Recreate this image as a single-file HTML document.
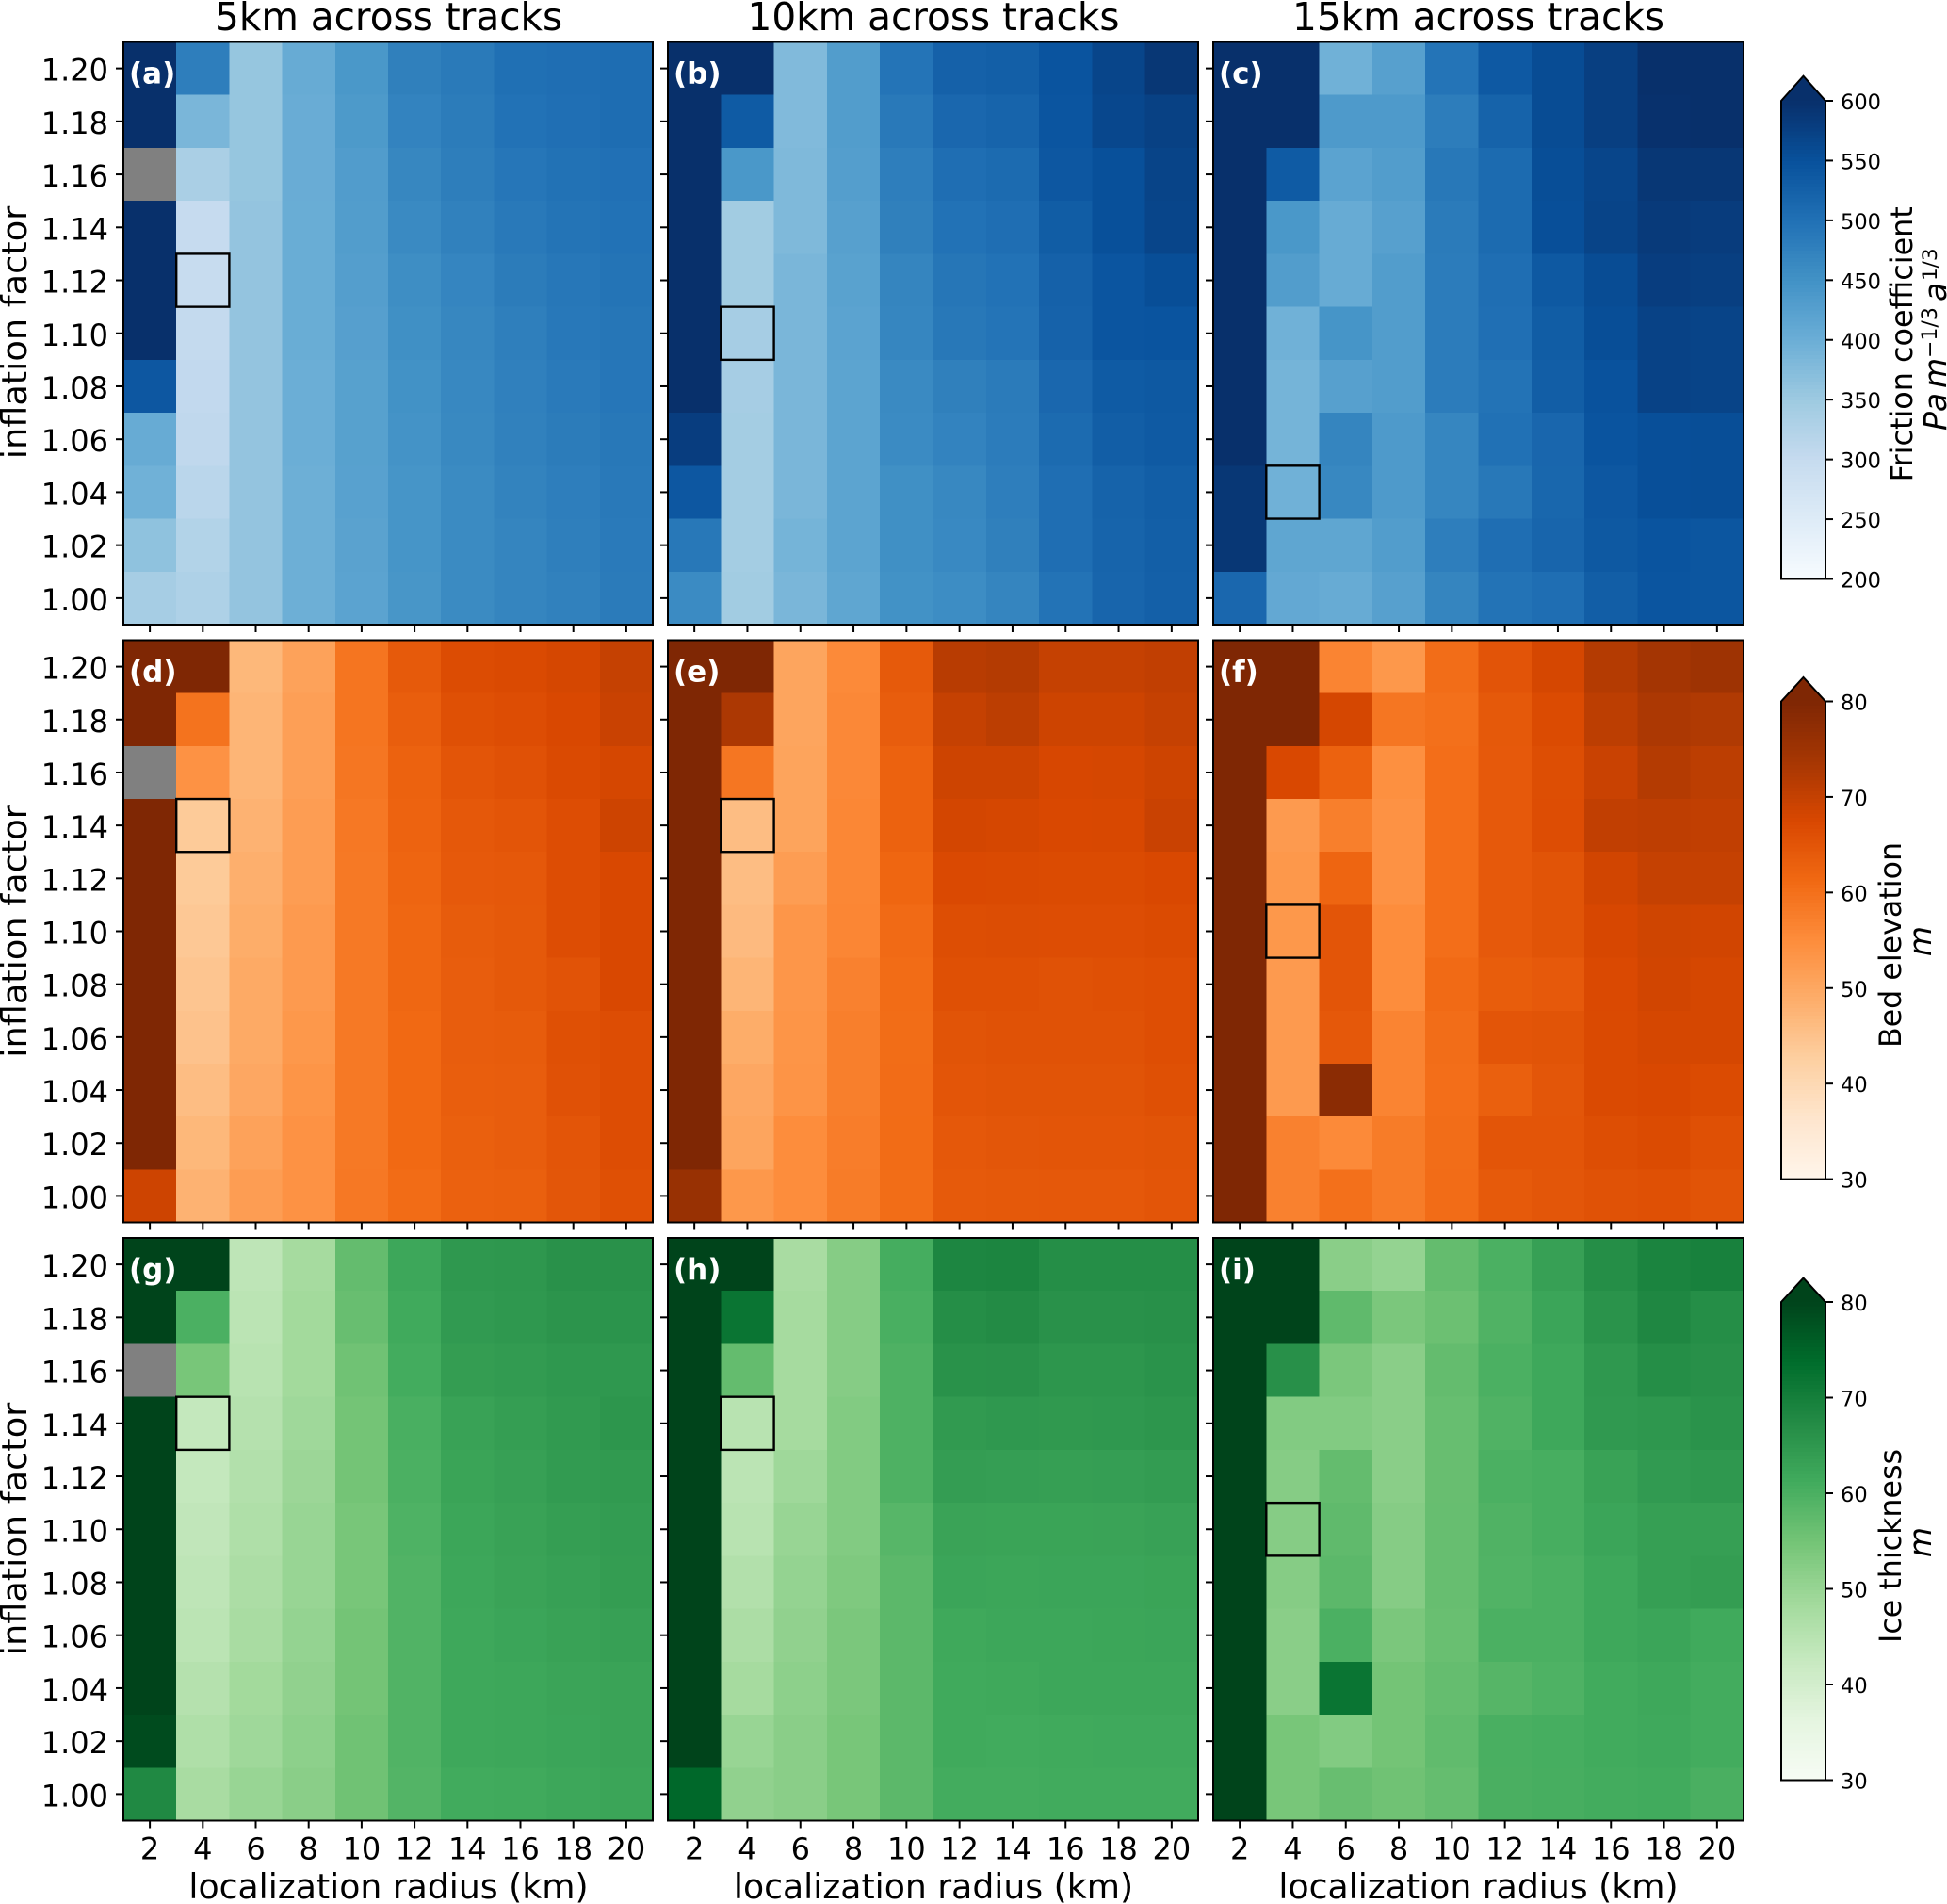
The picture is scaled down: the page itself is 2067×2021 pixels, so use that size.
<!DOCTYPE html>
<html lang="en">
<head>
<meta charset="utf-8">
<title>Localization radius and inflation factor heatmaps</title>
<style>
html,body{margin:0;padding:0;background:#fff;}
svg{display:block;}
text{font-family:"DejaVu Sans","Liberation Sans",sans-serif;fill:#000;}
</style>
</head>
<body>
<svg id="figure" xmlns="http://www.w3.org/2000/svg" width="2067" height="2021" viewBox="0 0 2067 2021">
  <rect x="0" y="0" width="2067" height="2021" fill="#ffffff"/>
  <g id="plots"></g>
  <text x="412.6" y="32" font-size="40.6" text-anchor="middle">5km across tracks</text>
  <text x="991" y="32" font-size="40.6" text-anchor="middle">10km across tracks</text>
  <text x="1569.5" y="32" font-size="40.6" text-anchor="middle">15km across tracks</text>
  <text transform="translate(28,353) rotate(-90)" font-size="36.7" text-anchor="middle">inflation factor</text>
  <text transform="translate(28,988.5) rotate(-90)" font-size="36.7" text-anchor="middle">inflation factor</text>
  <text transform="translate(28,1623) rotate(-90)" font-size="36.7" text-anchor="middle">inflation factor</text>
  <text x="412.5" y="2015" font-size="36.2" text-anchor="middle">localization radius (km)</text>
  <text x="991" y="2015" font-size="36.2" text-anchor="middle">localization radius (km)</text>
  <text x="1569.5" y="2015" font-size="36.2" text-anchor="middle">localization radius (km)</text>
  <text transform="translate(2030,365.3) rotate(-90)" font-size="31.8" text-anchor="middle">Friction coefficient</text>
  <text transform="translate(2066,457) rotate(-90)" font-size="33"><tspan x="0" y="0" font-style="italic">Pa</tspan><tspan x="45" y="0" font-style="italic">m</tspan><tspan x="77" y="-10" font-size="22">−1/3</tspan><tspan x="137" y="0" font-style="italic">a</tspan><tspan x="159" y="-10" font-size="21.5">1/3</tspan></text>
  <text transform="translate(2018,1003) rotate(-90)" font-size="31.7" text-anchor="middle">Bed elevation</text>
  <text transform="translate(2050,999) rotate(-90)" font-size="33" text-anchor="middle" font-style="italic">m</text>
  <text transform="translate(2018,1641) rotate(-90)" font-size="31.7" text-anchor="middle">Ice thickness</text>
  <text transform="translate(2050,1637) rotate(-90)" font-size="33" text-anchor="middle" font-style="italic">m</text>
</svg>
<script>
// Categories and tick labels
const radii = [2, 4, 6, 8, 10, 12, 14, 16, 18, 20];
const inflations = [1.20, 1.18, 1.16, 1.14, 1.12, 1.10, 1.08, 1.06, 1.04, 1.02, 1.00];
const radiusLabels = ['2', '4', '6', '8', '10', '12', '14', '16', '18', '20'];
const inflationLabels = ['1.20', '1.18', '1.16', '1.14', '1.12', '1.10', '1.08', '1.06', '1.04', '1.02', '1.00'];
const frictionTicks = [200, 250, 300, 350, 400, 450, 500, 550, 600];
const bedTicks = [30, 40, 50, 60, 70, 80];
const iceTicks = [30, 40, 50, 60, 70, 80];

// Each inner array is one localization radius; values follow the order of `inflations`. null = no data.
const friction5km = [
  [620,620,null,620,620,620,540,405,395,365,340],
  [480,385,335,300,298,302,305,308,315,325,330],
  [358,358,358,360,360,360,360,360,360,360,360],
  [405,403,403,402,402,402,400,400,398,398,398],
  [440,436,432,430,428,426,424,424,423,421,420],
  [478,472,467,462,456,453,450,448,445,445,443],
  [487,484,481,476,469,467,465,464,461,461,461],
  [502,498,492,488,484,479,477,476,473,470,470],
  [505,503,499,496,491,489,486,484,480,479,476],
  [507,506,501,498,496,493,492,490,488,486,485]
];
const friction10km = [
  [620,620,620,620,620,620,620,580,540,490,460],
  [620,535,440,345,345,340,340,342,342,342,345],
  [378,378,380,380,385,385,385,385,385,390,385],
  [430,430,428,425,422,420,418,418,418,418,415],
  [495,488,480,478,470,468,462,460,453,453,450],
  [525,515,505,498,493,490,478,472,465,463,457],
  [528,520,510,505,498,495,485,483,480,478,470],
  [545,543,540,532,525,523,515,510,505,505,497],
  [568,565,552,552,543,543,535,530,522,520,518],
  [590,575,570,568,555,545,538,536,530,528,527]
];
const friction15km = [
  [620,620,620,620,620,620,620,620,590,590,515],
  [620,620,535,440,430,395,390,390,395,415,410],
  [395,435,420,405,405,445,425,470,465,415,405],
  [425,435,430,425,430,430,430,435,435,430,425],
  [495,482,490,485,483,483,483,468,468,480,470],
  [537,522,510,510,505,503,497,500,490,505,497],
  [558,558,555,553,538,532,530,517,516,518,505],
  [578,578,568,570,558,555,548,545,540,538,530],
  [600,598,590,585,580,572,572,553,553,545,543],
  [605,605,590,582,578,570,570,555,555,542,542]
];
const bed5km = [
  [82,82,null,82,82,82,82,82,82,82,69],
  [82,59.5,54,43.5,43.5,44,44.5,45,46,47,48],
  [47,47.5,47.5,48,48.5,49,49.5,49.5,50,51,52],
  [51,51.5,51.5,52,52,52.5,52.5,53,53.5,54,54],
  [59.2,59.2,59,58.7,58.5,58.5,58.5,58.5,58.5,58.5,58.7],
  [64,63.3,62.5,62.3,62,61.7,61.7,61.3,61.3,61.2,60.8],
  [66.8,66,65,64.5,64.2,63.8,63.5,63.5,63.3,63,62.7],
  [67.2,66.5,65.8,65,64.5,64.3,64.3,63.8,63.5,63.5,63],
  [68,67.5,67.2,66.5,66.5,66.5,65.5,66,65.8,65,64.8],
  [70,69.5,68,69,67.5,67.5,67.5,66.5,66.5,66.5,66]
];
const bed10km = [
  [82,82,82,82,82,82,82,82,82,82,76],
  [82,73,59,46,46,46.5,47.5,49,50,50.5,53],
  [50.5,50.5,50.7,50.7,52,53.3,53.3,53.5,53.7,55,55],
  [55.5,55.8,55.8,56,56,56.2,57,57.5,57.5,57.8,58],
  [64,63.5,62.5,62.5,61.8,61,60.8,60.6,60.7,60.8,60.6],
  [71.5,70,69,68.2,67.3,66.4,66,65.3,65,64.5,64],
  [72,71,69,68,67.2,66.6,66,65.7,65.3,64.8,64.3],
  [70,69,67.8,67.5,67,66.5,65.7,65.7,65.3,65,64.5],
  [70,69,68,67.6,67,66.5,66,65.7,65.3,65,64.5],
  [70.5,70,69,69.5,67.5,67,66.3,66.3,66,65.3,65]
];
const bed15km = [
  [82,82,82,82,82,82,82,82,82,82,82],
  [82,82,67.5,52.5,53,53,52.5,52.5,52.5,57,57],
  [56.5,68,62.5,57.5,62,65,65,64.5,78,55.5,60],
  [53,59,54.5,54,54,55,55,56.5,56.5,58,58],
  [60.5,60,60.3,60.3,60.3,60.3,61,60.5,60.3,60.5,60.7],
  [65.2,64.3,64.2,64.2,64.2,64.2,63.6,65,63,65,64],
  [68,67,66.4,66.5,65.3,65.3,64.2,65.3,64.8,65,64.8],
  [72,71,69.5,70.5,68.5,67.8,67.3,67.2,67.2,66.4,65.7],
  [74,73,72,70.8,70,68.7,68.5,68,67.5,67,66],
  [75,72.5,71,70.5,70,68.5,68,68,67,66,65.3]
];
const ice5km = [
  [82,82,null,82,82,82,82,82,82,79,68],
  [82,60,54.5,43,43,43.5,44,44.5,45.5,46.5,47.5],
  [44,44.5,45,45.5,46,46.5,47,47.5,48.5,49,50],
  [48,48.5,48.5,49,49.5,50,50,50.5,51,51.5,52],
  [57,56.5,55.5,55,55,54.5,54.5,55,55,55.5,55.5],
  [62,61.5,61,60.3,60,59.6,59.3,59.3,59.3,59.3,59],
  [65,64.5,64,63,62.7,62.3,62,61.9,61.8,61.8,61.3],
  [65.2,65,64.4,63.8,63.4,63,62.8,62.4,62,62,61.5],
  [66.3,65.7,65,64.6,64.4,63.8,63.4,63,62.6,62.4,62],
  [66.3,65.8,65,65.4,64.6,64.2,64,63.4,62.8,62.8,62.5]
];
const ice10km = [
  [82,82,82,82,82,82,82,82,82,82,74.5],
  [82,72,57,45,44.5,45,46,47,48,50,51],
  [47.5,48,48,48,49,50,50.5,51,51.5,52,52],
  [52.5,52.5,52.5,53,53,53,53.5,54,54,54.5,54.5],
  [60.8,60.3,59.7,59.7,59.7,58.5,58,58,58,58,58],
  [68.5,67,66.2,64.6,63.9,62.8,62.4,61.7,61.5,61.4,61],
  [68.8,67.5,66.3,65,63.7,62.7,62.3,62,61.7,61.3,61],
  [67,66.3,65.4,64.8,63.6,62.7,62.4,62,62,61.5,61.2],
  [67,66.3,65.4,65,63.7,62.8,62.4,62.2,62,61.6,61.2],
  [67,66.5,66,65.4,64.2,63.2,62.7,62.4,62,61.6,61.3]
];
const ice15km = [
  [82,82,82,82,82,82,82,82,82,82,82],
  [82,82,66.5,53,52.5,52.5,52.5,52,52,54.5,54.5],
  [52,57.5,54,53,57,57.5,58,60,72,53,56.5],
  [50.5,54,52,52,52,52.5,52.5,54,55,55,55.5],
  [57,56,57,56.6,56.5,56.6,56.6,56.3,56.8,57.3,56.8],
  [60,59.4,60,59.4,60,59.4,59.3,60,58.7,60.3,60.2],
  [63.4,62.4,61.8,61.8,60.5,60.5,60,60,59.6,60.6,60.5],
  [67,66,65,64.7,63,62.4,61.8,61.8,61.3,61.3,61],
  [69,68.3,67,65.2,64.5,63.6,63.6,62.4,61.9,61.6,61.2],
  [69.5,67,66.5,66,65,63.5,64,61.5,61,61,60.2]
];
// Best-run inflation factor per panel (radius is 4 km throughout)
const bestInflation = [1.12, 1.10, 1.04, 1.14, 1.14, 1.10, 1.14, 1.14, 1.10];
const bestRadius = 4;
const panelLetters = ['(a)', '(b)', '(c)', '(d)', '(e)', '(f)', '(g)', '(h)', '(i)'];

const blues = ['#f7fbff','#deebf7','#c6dbef','#9ecae1','#6baed6','#4292c6','#2171b5','#08519c','#08306b'];
const oranges = ['#fff5eb','#fee6ce','#fdd0a2','#fdae6b','#fd8d3c','#f16913','#d94801','#a63603','#7f2704'];
const greens = ['#f7fcf5','#e5f5e0','#c7e9c0','#a1d99b','#74c476','#41ab5d','#238b45','#006d2c','#00441b'];

const NS = 'http://www.w3.org/2000/svg';
const root = document.getElementById('plots');

function make(tag, attrs, parent, text) {
  const node = document.createElementNS(NS, tag);
  for (const key in attrs) { node.setAttribute(key, attrs[key]); }
  if (text !== undefined) { node.textContent = text; }
  (parent || root).appendChild(node);
  return node;
}
function hexToRgb(hex) {
  return [parseInt(hex.slice(1, 3), 16), parseInt(hex.slice(3, 5), 16), parseInt(hex.slice(5, 7), 16)];
}
function colorFor(value, vmin, vmax, stops) {
  if (value === null) { return '#808080'; }
  const t = Math.min(1, Math.max(0, (value - vmin) / (vmax - vmin))) * (stops.length - 1);
  const i = Math.min(stops.length - 2, Math.floor(t));
  const f = t - i;
  const a = hexToRgb(stops[i]);
  const b = hexToRgb(stops[i + 1]);
  const c = a.map(function (v, k) { return Math.round(v + (b[k] - v) * f); });
  return 'rgb(' + c.join(',') + ')';
}

const columnEdges = [[131, 693], [709, 1272], [1288, 1851]];
const rowEdges = [[44.5, 663], [679.5, 1297.5], [1314, 1932.5]];
const panelData = [friction5km, friction10km, friction15km, bed5km, bed10km, bed15km, ice5km, ice10km, ice15km];
const rowStyles = [
  { vmin: 200, vmax: 600, stops: blues, ticks: frictionTicks, top: 107, bottom: 614.5, tip: 80.7, name: 'friction' },
  { vmin: 30, vmax: 80, stops: oranges, ticks: bedTicks, top: 744.5, bottom: 1251.6, tip: 719, name: 'bed-elevation' },
  { vmin: 30, vmax: 80, stops: greens, ticks: iceTicks, top: 1382, bottom: 1889.5, tip: 1356.6, name: 'ice-thickness' }
];

function xScale(ax, radius) { return ax.x0 + (radius - 1) / 20 * (ax.x1 - ax.x0); }
function yScale(ax, factor) { return ax.y1 - (factor - 0.99) / 0.22 * (ax.y1 - ax.y0); }

function drawPanel(index) {
  const col = index % 3;
  const row = Math.floor(index / 3);
  const ax = { x0: columnEdges[col][0], x1: columnEdges[col][1], y0: rowEdges[row][0], y1: rowEdges[row][1] };
  const style = rowStyles[row];
  const values = panelData[index];
  const group = make('g', {});
  
  

  radii.forEach(function (radius, c) {
    inflations.forEach(function (factor, r) {
      const left = xScale(ax, radius - 1);
      const right = xScale(ax, radius + 1);
      const top = yScale(ax, factor + 0.01);
      const bottom = yScale(ax, factor - 0.01);
      const cell = make('rect', {
        x: left, y: top, width: right - left, height: bottom - top,
        fill: colorFor(values[c][r], style.vmin, style.vmax, style.stops),
        'shape-rendering': 'crispEdges'
      }, group);
      
      
    });
  });

  const best = make('rect', {
    x: xScale(ax, bestRadius - 1),
    y: yScale(ax, bestInflation[index] + 0.01),
    width: xScale(ax, bestRadius + 1) - xScale(ax, bestRadius - 1),
    height: yScale(ax, bestInflation[index] - 0.01) - yScale(ax, bestInflation[index] + 0.01),
    fill: 'none', stroke: '#000', 'stroke-width': 2.4
  }, group);
  
  

  const frame = make('rect', {
    x: ax.x0, y: ax.y0, width: ax.x1 - ax.x0, height: ax.y1 - ax.y0,
    fill: 'none', stroke: '#000', 'stroke-width': 2
  }, group);
  
  

  radii.forEach(function (radius, c) {
    const x = xScale(ax, radius);
    const tick = make('line', { x1: x, x2: x, y1: ax.y1, y2: ax.y1 + 8, stroke: '#000', 'stroke-width': 2 }, group);
    
    
    if (row === 2) {
      const label = make('text', { x: x, y: ax.y1 + 41, 'font-size': 32, 'text-anchor': 'middle' }, group, radiusLabels[c]);
      
      
    }
  });
  inflations.forEach(function (factor, r) {
    const y = yScale(ax, factor);
    const tick = make('line', { x1: ax.x0 - 8, x2: ax.x0, y1: y, y2: y, stroke: '#000', 'stroke-width': 2 }, group);
    
    
    if (col === 0) {
      const label = make('text', { x: ax.x0 - 16, y: y + 13, 'font-size': 32, 'text-anchor': 'end' }, group, inflationLabels[r]);
      
      
    }
  });

  const tag = make('text', { x: ax.x0 + 6, y: ax.y0 + 44, 'font-size': 31, 'font-weight': 'bold' }, group, panelLetters[index]);
  tag.style.fill = '#ffffff';
  
  
}

function drawColorbar(style) {
  const left = 1891;
  const right = 1938;
  const scale = function (v) { return style.bottom - (v - style.vmin) / (style.vmax - style.vmin) * (style.bottom - style.top); };
  const group = make('g', {});
  
  
  const steps = 128;
  for (let s = 0; s < steps; s++) {
    const v0 = style.vmin + (style.vmax - style.vmin) * s / steps;
    const v1 = style.vmin + (style.vmax - style.vmin) * (s + 1) / steps;
    const band = make('rect', {
      x: left, y: scale(v1), width: right - left, height: scale(v0) - scale(v1) + 0.6,
      fill: colorFor((v0 + v1) / 2, style.vmin, style.vmax, style.stops),
      'shape-rendering': 'crispEdges'
    }, group);
    
    
  }
  const cx = (left + right) / 2;
  const over = make('polygon', {
    points: left + ',' + style.top + ' ' + cx + ',' + style.tip + ' ' + right + ',' + style.top,
    fill: style.stops[style.stops.length - 1]
  }, group);
  
  
  const outline = make('polygon', {
    points: [left + ',' + style.bottom, left + ',' + style.top, cx + ',' + style.tip, right + ',' + style.top, right + ',' + style.bottom].join(' '),
    fill: 'none', stroke: '#000', 'stroke-width': 2
  }, group);
  
  
  style.ticks.forEach(function (value) {
    const y = scale(value);
    const tick = make('line', { x1: right, x2: right + 8, y1: y, y2: y, stroke: '#000', 'stroke-width': 2 }, group);
    
    
    const label = make('text', { x: 1954, y: y + 9, 'font-size': 22.5 }, group, String(value));
    
    
  });
}

panelData.forEach(function (_, index) { drawPanel(index); });
rowStyles.forEach(drawColorbar);
</script>
</body>
</html>
